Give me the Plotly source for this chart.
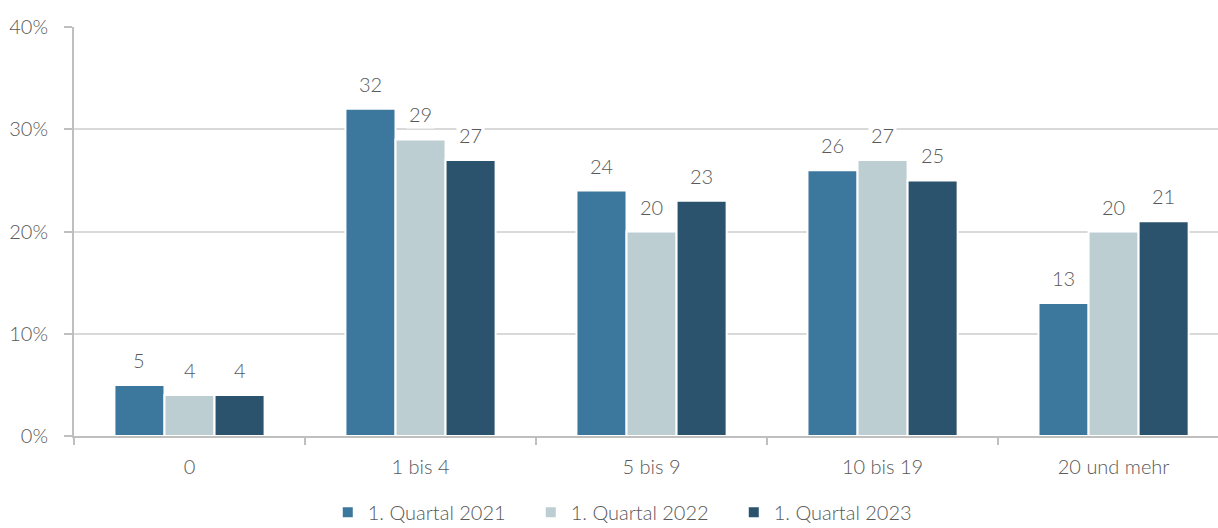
import plotly.graph_objects as go

categories = ["0", "1 bis 4", "5 bis 9", "10 bis 19", "20 und mehr"]
series_names = ["1. Quartal 2021", "1. Quartal 2022", "1. Quartal 2023"]
values_2021 = [5, 32, 24, 26, 13]
values_2022 = [4, 29, 20, 27, 20]
values_2023 = [4, 27, 23, 25, 21]
y_tick_vals = [0, 10, 20, 30, 40]
y_tick_text = ["0%", "10%", "20%", "30%", "40%"]

colors = ["#3C789E", "#BDCED3", "#2B536E"]
all_values = [values_2021, values_2022, values_2023]
FONT = "Lato"
TXT = "#595959"
FS = 20
W = 300

fig = go.Figure()
for name, vals, col in zip(series_names, all_values, colors):
    fig.add_trace(go.Bar(
        x=categories, y=vals, name=name,
        marker=dict(color=col, line=dict(color="white", width=2)),
        hoverinfo="x+y+name",
    ))

# data labels with white background (interrupt gridlines)
bar_px = (1 - 0.35) * 231 / 3
for i, vals in enumerate(all_values):
    for c, v in zip(categories, vals):
        fig.add_annotation(
            x=c, y=v, xref="x", yref="y", text=str(v), showarrow=False,
            xshift=(i - 1) * bar_px, yshift=10, yanchor="bottom",
            bgcolor="white", borderpad=2,
            font=dict(family=FONT, size=FS, color=TXT, weight=W),
        )

fig.update_layout(
    width=1218, height=528,
    margin=dict(l=74, r=0, t=27, b=92, autoexpand=False),
    paper_bgcolor="white", plot_bgcolor="white",
    barmode="group", bargap=0.35, bargroupgap=0,
    font=dict(family=FONT, size=FS, color=TXT, weight=W),
    showlegend=True,
    legend=dict(orientation="h", x=0.488, xanchor="center",
                yref="container", y=0.03, yanchor="middle",
                font=dict(family=FONT, size=FS, color=TXT, weight=W),
                itemwidth=30, entrywidth=158, traceorder="normal"),
)
fig.update_xaxes(
    type="category", range=[-0.5, 4.452], automargin=False,
    showline=True, linecolor="#BFBFBF", linewidth=2,
    ticks="outside", tickson="boundaries", ticklen=7, tickcolor="#BFBFBF", tickwidth=2,
    showgrid=False, tickfont=dict(family=FONT, size=FS, color=TXT, weight=W),
    ticklabelstandoff=12,
)
fig.update_yaxes(
    range=[0, 40], tickvals=y_tick_vals, ticktext=y_tick_text, automargin=False,
    showline=True, linecolor="#BFBFBF", linewidth=2,
    ticks="outside", ticklen=8, tickcolor="#BFBFBF", tickwidth=2,
    showgrid=True, gridcolor="#D9D9D9", gridwidth=2, zeroline=False,
    tickfont=dict(family=FONT, size=FS, color=TXT, weight=W), ticklabelstandoff=12,
)

fig.write_html("out.html", config={"displayModeBar": False},
               post_script="document.body.style.margin='0';")
